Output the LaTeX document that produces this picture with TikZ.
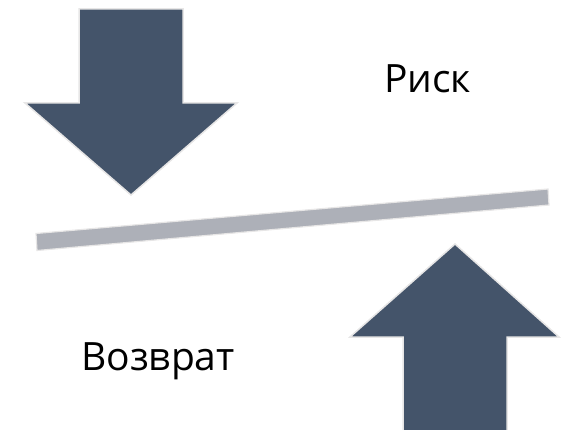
\documentclass[tikz,border=0pt]{standalone}
\usepackage{fontspec}
\setmainfont{Open Sans}
\definecolor{arrowfill}{HTML}{44546A}
\definecolor{edgegray}{HTML}{E7E6E6}
\definecolor{barfill}{HTML}{ADB0B8}
\begin{document}
\begin{tikzpicture}[x=1pt,y=-1pt,
  bigarrow/.style={fill=arrowfill,draw=edgegray,line width=1.5pt,line join=miter},
  beam/.style={fill=barfill,draw=edgegray,line width=1.2pt},
  lbl/.style={font=\fontsize{39}{46}\selectfont,text=black,inner sep=0pt,anchor=base west}]
\useasboundingbox (0,0) rectangle (561,430);
% down arrow
\path[bigarrow] (79,9) -- (183,9) -- (183,103) -- (237,103) -- (131,195) -- (25,103) -- (79,103) -- cycle;
% up arrow
\path[bigarrow] (455,244) -- (559,337) -- (507,337) -- (507,432) -- (403,432) -- (403,337) -- (350,337) -- cycle;
% beam
\path[beam] (36,233.5) -- (548,189) -- (549,205) -- (37,250.5) -- cycle;
\node[lbl] (risk) at (384,93) {Риск};
\node[lbl] (ret) at (81,370) {Возврат};
\end{tikzpicture}
\end{document}
